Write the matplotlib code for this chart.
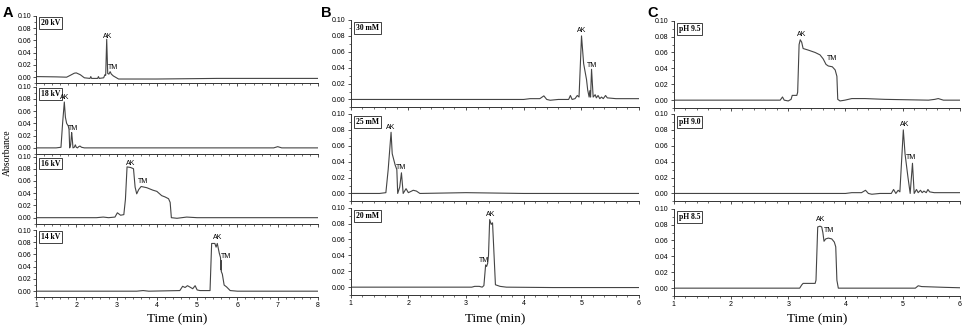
import matplotlib
matplotlib.use("Agg")
import matplotlib.pyplot as plt
from matplotlib.ticker import MultipleLocator

# ---------------- data ----------------
# Panel A - separation voltage
A1_t = [1.0, 1.5, 1.76, 1.85, 1.95, 2.0, 2.1, 2.2, 2.34, 2.36, 2.38, 2.53, 2.55, 2.57,
        2.68, 2.71, 2.73, 2.755, 2.78, 2.81, 2.84, 2.87, 2.92, 3.05, 4.0, 5.5, 7.0, 8.0]
A1_a = [0.001, 0.0005, 0.0, 0.003, 0.0065, 0.007, 0.004, -0.001, -0.002, 0.001, -0.002,
        -0.002, 0.001, -0.002, -0.001, 0.004, 0.003, 0.062, 0.006, 0.005, 0.009, 0.005,
        0.002, -0.003, -0.003, -0.002, -0.002, -0.002]

A2_t = [1.0, 1.5, 1.62, 1.66, 1.703, 1.73, 1.761, 1.80, 1.82, 1.836, 1.86, 1.885, 1.90,
        1.918, 1.95, 1.976, 2.0, 2.03, 2.06, 2.092, 2.13, 2.2, 3.0, 5.0, 6.9, 7.0, 7.1, 8.0]
A2_a = [0.0, 0.0, 0.001, 0.04, 0.075, 0.05, 0.04, 0.036, 0.03, 0.0, 0.005, 0.025, 0.015,
        0.0, 0.001, 0.005, 0.001, 0.0, 0.002, 0.003, 0.001, 0.0, 0.0, 0.0, 0.0, 0.002, 0.0, 0.0]

A3_t = [1.0, 2.5, 2.67, 2.8, 2.96, 3.02, 3.10, 3.18, 3.22, 3.26, 3.35, 3.42, 3.46, 3.50,
        3.55, 3.61, 3.75, 3.9, 4.0, 4.12, 4.2, 4.29, 4.33, 4.36, 4.5, 4.74, 5.0, 6.0, 8.0]
A3_a = [0.0, 0.0, 0.001, 0.0, 0.001, 0.008, 0.004, 0.005, 0.03, 0.083, 0.082, 0.080,
        0.05, 0.039, 0.046, 0.051, 0.049, 0.045, 0.043, 0.036, 0.034, 0.031, 0.025, 0.0,
        -0.001, 0.001, 0.0, 0.0, 0.0]

A4_t = [1.0, 3.5, 3.66, 3.8, 4.57, 4.64, 4.70, 4.76, 4.84, 4.89, 4.95, 5.0, 5.07, 5.32,
        5.36, 5.44, 5.47, 5.50, 5.55, 5.58, 5.59, 5.595, 5.60, 5.625, 5.67, 5.73, 5.82,
        6.0, 8.0]
A4_a = [0.0, 0.0, 0.001, 0.0, 0.001, 0.008, 0.006, 0.009, 0.006, 0.004, 0.009, 0.002,
        0.001, 0.001, 0.078, 0.078, 0.072, 0.078, 0.062, 0.055, 0.035, 0.05, 0.032, 0.028,
        0.01, 0.007, 0.001, 0.0, 0.0]

# Panel B - buffer concentration
B1_t = [1.0, 4.0, 4.11, 4.28, 4.35, 4.40, 4.46, 4.6, 4.78, 4.81, 4.84, 4.89, 4.93, 4.96,
        5.003, 5.04, 5.09, 5.11, 5.135, 5.147, 5.16, 5.177, 5.205, 5.24, 5.26, 5.29, 5.32,
        5.35, 5.38, 5.42, 5.45, 5.6, 6.0]
B1_a = [0.0, 0.0, 0.001, 0.001, 0.0045, 0.0, -0.001, 0.0, 0.0, 0.005, 0.0, 0.001, 0.005,
        0.003, 0.08, 0.045, 0.025, 0.012, 0.003, 0.011, 0.003, 0.038, 0.003, 0.006, 0.002,
        0.005, 0.001, 0.003, 0.001, 0.005, 0.002, 0.001, 0.001]

B2_t = [1.0, 1.5, 1.61, 1.65, 1.70, 1.72, 1.745, 1.77, 1.80, 1.815, 1.85, 1.88, 1.91,
        1.96, 2.0, 2.085, 2.14, 2.2, 3.0, 4.0, 6.0]
B2_a = [0.0, 0.0, 0.001, 0.03, 0.077, 0.05, 0.043, 0.036, 0.03, 0.0, 0.008, 0.026, 0.0,
        0.006, 0.001, 0.004, 0.003, 0.0, 0.001, 0.0, 0.0]

B3_t = [1.0, 3.1, 3.15, 3.23, 3.28, 3.31, 3.34, 3.357, 3.375, 3.39, 3.41, 3.437, 3.46,
        3.48, 3.51, 3.59, 3.7, 4.5, 6.0]
B3_a = [0.0, 0.0, 0.001, 0.001, 0.0, 0.002, 0.028, 0.026, 0.03, 0.04, 0.085, 0.079,
        0.081, 0.05, 0.003, 0.001, 0.0, -0.0005, -0.0005]

# Panel C - buffer pH
C1_t = [1.0, 2.8, 2.86, 2.90, 2.93, 3.0, 3.05, 3.07, 3.15, 3.165, 3.19, 3.21, 3.235,
        3.26, 3.35, 3.47, 3.555, 3.61, 3.66, 3.70, 3.77, 3.82, 3.85, 3.865, 3.905, 3.99,
        4.11, 4.34, 4.69, 5.45, 5.56, 5.62, 5.71, 6.0]
C1_a = [0.0, 0.0, 0.0, 0.004, 0.0, -0.001, 0.001, 0.006, 0.006, 0.01, 0.07, 0.076,
        0.073, 0.065, 0.063, 0.06, 0.057, 0.052, 0.045, 0.043, 0.042, 0.038, 0.03, 0.001,
        -0.001, 0.0, 0.002, 0.002, 0.001, 0.0, 0.001, 0.002, 0.0, 0.0]

C2_t = [1.0, 4.0, 4.11, 4.28, 4.35, 4.40, 4.46, 4.6, 4.80, 4.84, 4.88, 4.92, 4.95, 5.01,
        5.04, 5.09, 5.13, 5.17, 5.20, 5.24, 5.27, 5.31, 5.34, 5.37, 5.41, 5.44, 5.47, 5.55,
        6.0]
C2_a = [0.0, 0.0, 0.001, 0.001, 0.004, 0.0, -0.001, 0.0, 0.0, 0.005, 0.0, 0.004, 0.002,
        0.08, 0.05, 0.021, 0.0, 0.038, 0.0, 0.005, 0.001, 0.004, 0.001, 0.003, 0.001,
        0.005, 0.002, 0.001, 0.001]

C3_t = [1.0, 3.2, 3.235, 3.26, 3.47, 3.485, 3.515, 3.555, 3.585, 3.605, 3.625, 3.655,
        3.70, 3.76, 3.805, 3.83, 3.85, 3.875, 4.5, 5.22, 5.27, 5.33, 5.74, 6.0]
C3_a = [0.0, 0.0, 0.004, 0.006, 0.006, 0.01, 0.077, 0.078, 0.077, 0.07, 0.059, 0.062,
        0.063, 0.062, 0.058, 0.052, 0.01, 0.0, 0.0, 0.0, 0.003, 0.002, 0.001, 0.0005]

A_labels = ["20 kV", "18 kV", "16 kV", "14 kV"]
B_labels = ["30 mM", "25 mM", "20 mM"]
C_labels = ["pH 9.5", "pH 9.0", "pH 8.5"]

# peak labels: (AK time, AK abs, TM time, TM abs)
A_peaks = [(2.77, 0.067, 2.92, 0.016), (1.71, 0.083, 1.93, 0.032),
           (3.36, 0.089, 3.66, 0.059), (5.52, 0.087, 5.71, 0.056)]
B_peaks = [(5.0, 0.087, 5.18, 0.043), (1.70, 0.083, 1.87, 0.033),
           (3.43, 0.092, 3.31, 0.033)]
C_peaks = [(3.23, 0.083, 3.76, 0.053), (5.03, 0.087, 5.15, 0.045),
           (3.57, 0.086, 3.71, 0.072)]

A_traces = [(A1_t, A1_a), (A2_t, A2_a), (A3_t, A3_a), (A4_t, A4_a)]
B_traces = [(B1_t, B1_a), (B2_t, B2_a), (B3_t, B3_a)]
C_traces = [(C1_t, C1_a), (C2_t, C2_a), (C3_t, C3_a)]

# ---------------- figure ----------------
W, H = 970, 331
fig = plt.figure(figsize=(W / 100, H / 100), dpi=100)
SERIF = ["Liberation Serif", "DejaVu Serif"]
SANS = ["Liberation Sans", "DejaVu Sans"]
plt.rcParams["font.family"] = SANS

LINE = "#444444"


def panel(left, width, tops, height, xmax, traces, labels, peaks):
    axes = []
    n = len(traces)
    for i in range(n):
        top = tops[i]
        ax = fig.add_axes([left / W, 1 - (top + height) / H, width / W, height / H])
        t, a = traces[i]
        ax.plot(t, a, color=LINE, lw=0.8)
        ax.set_xlim(1, xmax)
        ax.set_ylim(-0.01, 0.10)
        for s in ["top", "right"]:
            ax.spines[s].set_visible(False)
        for s in ["left", "bottom"]:
            ax.spines[s].set_linewidth(0.7)
            ax.spines[s].set_color("#333333")
        ax.xaxis.set_major_locator(MultipleLocator(1))
        ax.xaxis.set_minor_locator(MultipleLocator(0.2))
        ax.yaxis.set_minor_locator(MultipleLocator(0.01))
        ax.set_yticks([0.0, 0.02, 0.04, 0.06, 0.08, 0.10])
        ax.set_yticklabels(["0.00", "0.02", "0.04", "0.06", "0.08", "0.10"])
        ax.tick_params(which="major", length=2.5, width=0.6, pad=1, labelsize=5,
                       color="#333333", direction="out")
        ax.tick_params(which="minor", length=1.3, width=0.5, color="#333333",
                       direction="out")
        if i < n - 1:
            ax.tick_params(axis="x", labelbottom=False)
        ax.text(0.018, 0.955, labels[i], transform=ax.transAxes, ha="left", va="top",
                fontsize=5.5, fontweight="bold", family=SERIF,
                bbox=dict(boxstyle="square,pad=0.25", fc="white", ec="#222222", lw=0.6))
        akx, aky, tmx, tmy = peaks[i]
        ax.text(akx, aky, "AK", ha="center", va="center", fontsize=5)
        ax.text(tmx, tmy, "TM", ha="center", va="center", fontsize=5)
        axes.append(ax)
    fig.text((left + width / 2) / W, 1 - 319 / H, "Time (min)", ha="center",
             va="center", fontsize=9.5, family=SERIF)
    return axes


panel(36, 282, [16, 86.7, 156.5, 230], 67.3, 8, A_traces, A_labels, A_peaks)
panel(350.7, 288.3, [20, 114, 207.7], 87.4, 6, B_traces, B_labels, B_peaks)
panel(673.7, 286.3, [20.7, 114, 208.7], 87.4, 6, C_traces, C_labels, C_peaks)

fig.text(7 / W, 1 - 153 / H, "Absorbance", rotation=90, ha="center", va="center",
         fontsize=7, family=SERIF)

for letter, x in [("A", 3), ("B", 321), ("C", 647)]:
    fig.text(x / W, 1 - 6 / H, letter, ha="left", va="top", fontsize=10.5,
             fontweight="bold")

fig.savefig("out.png", dpi=100)
